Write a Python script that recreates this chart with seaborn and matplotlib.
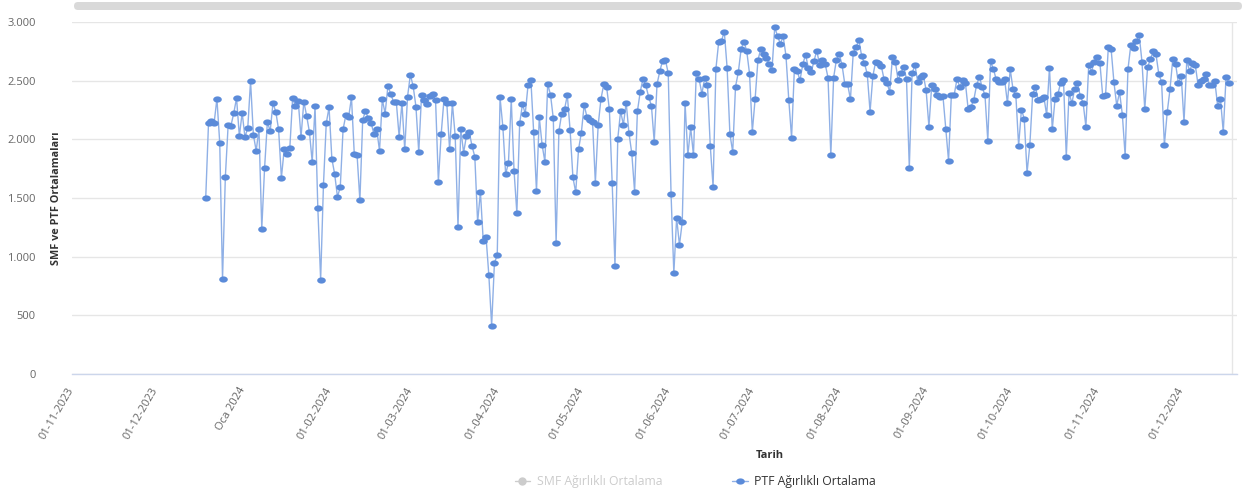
import numpy as np
import pandas as pd
import matplotlib
matplotlib.use("Agg")
import matplotlib.pyplot as plt
import matplotlib.dates as mdates
import seaborn as sns
from matplotlib.transforms import ScaledTranslation, IdentityTransform, blended_transform_factory
from matplotlib.patches import FancyBboxPatch
from matplotlib.lines import Line2D

sns.set_theme(style="white")
plt.rcParams["font.family"] = ["Open Sans", "DejaVu Sans"]

# ---- data: daily PTF weighted average, 2024 ----
ptf_jan = [1497, 2138, 2155, 2140, 2346, 1971, 809, 1678, 2121, 2116, 2223, 2351, 2028, 2226, 2019,
           2096, 2496, 2039, 1903, 2087, 1238, 1755, 2147, 2070, 2309, 2235, 2084, 1673, 1914, 1874, 1925]
ptf_feb = [2351, 2283, 2329, 2019, 2321, 2201, 2062, 1806, 2283, 1412, 804, 1610, 2136, 2272, 1835,
           1704, 1511, 1591, 2085, 2207, 2192, 2357, 1874, 1866, 1480, 2164, 2243, 2178, 2141]
ptf_mar = [2045, 2085, 1903, 2340, 2220, 2454, 2386, 2320, 2317, 2022, 2312, 1914, 2363, 2550, 2454,
           2278, 1891, 2380, 2334, 2298, 2369, 2386, 2334, 1638, 2045, 2340, 2312, 1914, 2306, 2028, 1250]
ptf_apr = [2085, 1886, 2028, 2065, 1943, 1852, 1295, 1553, 1136, 1170, 844, 412, 949, 1011, 2357,
           2107, 1704, 1800, 2340, 1729, 1372, 2138, 2298, 2220, 2465, 2505, 2059, 1559, 2187, 1954]
ptf_may = [1809, 2471, 2380, 2178, 1119, 2070, 2220, 2255, 2377, 2076, 1675, 1548, 1914, 2056, 2292,
           2192, 2164, 2145, 1631, 2119, 2344, 2469, 2449, 2256, 1631, 920, 2006, 2239, 2125, 2312, 2051]
ptf_jun = [1881, 1554, 2239, 2403, 2517, 2460, 2363, 2287, 1980, 2469, 2582, 2670, 2676, 2563, 1537,
           861, 1330, 1099, 1296, 2310, 1864, 2102, 1864, 2568, 2514, 2389, 2520, 2466, 1943, 1596]
ptf_jul = [2599, 2830, 2840, 2918, 2611, 2045, 1892, 2449, 2571, 2770, 2832, 2753, 2560, 2065, 2346,
           2676, 2767, 2725, 2696, 2640, 2591, 2957, 2878, 2815, 2878, 2713, 2338, 2014, 2599, 2582, 2503]
ptf_aug = [2640, 2722, 2605, 2571, 2668, 2756, 2634, 2673, 2640, 2526, 1866, 2526, 2679, 2727, 2634,
           2469, 2469, 2341, 2739, 2784, 2847, 2710, 2648, 2557, 2236, 2540, 2662, 2648, 2625, 2512, 2483]
ptf_sep = [2406, 2704, 2662, 2506, 2563, 2619, 2512, 1758, 2563, 2634, 2491, 2529, 2548, 2418, 2108,
           2463, 2426, 2378, 2358, 2369, 2088, 1818, 2378, 2378, 2512, 2449, 2506, 2483, 2256, 2278]
ptf_oct = [2335, 2463, 2534, 2443, 2375, 1988, 2665, 2597, 2512, 2489, 2491, 2512, 2307, 2597, 2426,
           2378, 1946, 2253, 2176, 1716, 1952, 2386, 2443, 2335, 2346, 2363, 2205, 2611, 2085, 2346, 2386]
ptf_nov = [2483, 2506, 1852, 2398, 2307, 2432, 2477, 2369, 2312, 2108, 2634, 2577, 2662, 2704, 2648,
           2369, 2375, 2784, 2767, 2486, 2287, 2403, 2210, 1858, 2597, 2801, 2776, 2835, 2889, 2662]
ptf_dec = [2256, 2614, 2682, 2753, 2725, 2557, 2489, 1952, 2230, 2426, 2687, 2642, 2477, 2542, 2148,
           2676, 2580, 2648, 2636, 2466, 2500, 2512, 2554, 2463, 2466, 2494, 2284, 2346, 2062, 2534, 2483]

ptf_values = (ptf_jan + ptf_feb + ptf_mar + ptf_apr + ptf_may + ptf_jun +
              ptf_jul + ptf_aug + ptf_sep + ptf_oct + ptf_nov + ptf_dec)
start_date = "2024-01-01"

tick_dates = ["2023-11-01", "2023-12-01", "2024-01-01", "2024-02-01", "2024-03-01", "2024-04-01",
              "2024-05-01", "2024-06-01", "2024-07-01", "2024-08-01", "2024-09-01", "2024-10-01",
              "2024-11-01", "2024-12-01"]
tick_labels = ["01-11-2023", "01-12-2023", "Oca 2024", "01-02-2024", "01-03-2024", "01-04-2024",
               "01-05-2024", "01-06-2024", "01-07-2024", "01-08-2024", "01-09-2024", "01-10-2024",
               "01-11-2024", "01-12-2024"]
grid_dates = tick_dates + ["2025-01-01"]
y_ticks = [0, 500, 1000, 1500, 2000, 2500, 3000]
y_tick_labels = ["0", "500", "1.000", "1.500", "2.000", "2.500", "3.000"]
series_names = ["SMF Ağırlıklı Ortalama", "PTF Ağırlıklı Ortalama"]

df = pd.DataFrame({
    "Tarih": pd.date_range(start_date, periods=len(ptf_values), freq="D"),
    "PTF": ptf_values,
})

# ---- figure ----
W, H = 1242, 495
fig = plt.figure(figsize=(W / 100, H / 100), dpi=100)
ax = fig.add_axes([72 / W, 121 / H, 1165 / W, 352 / H])

t = np.linspace(0, 2 * np.pi, 40)
ellipse = list(zip(np.cos(t), 0.72 * np.sin(t)))

line_col = "#8fb0e6"
mark_col = "#5b8bd9"

sns.lineplot(data=df, x="Tarih", y="PTF", ax=ax, color=line_col, linewidth=1.0,
             marker=ellipse, markersize=6.2, markerfacecolor=mark_col,
             markeredgecolor=mark_col, markeredgewidth=0)

tick_nums = [mdates.date2num(pd.Timestamp(d)) for d in tick_dates]
ax.set_yticks(y_ticks)
ax.set_yticklabels(y_tick_labels)
ax.set_xticks(tick_nums)
ax.set_xticklabels(tick_labels)
ax.set_xticks([mdates.date2num(pd.Timestamp(d)) for d in grid_dates], minor=True)

d0 = mdates.date2num(pd.Timestamp(start_date))
ax.set_xlim(d0 - 47.7, d0 + 367.9)
ax.set_ylim(0, 3000)

ax.grid(False)
ax.grid(axis="y", which="major", color="#e6e6e6", linewidth=1)
ax.grid(axis="x", which="minor", color="#e6e6e6", linewidth=1)
ax.tick_params(axis="both", which="both", length=0)
ax.tick_params(axis="y", pad=26, labelsize=8, labelcolor="#666666")
ax.tick_params(axis="x", pad=10, labelsize=8, labelcolor="#666666")

shift = ScaledTranslation(0.37, 0, fig.dpi_scale_trans)
for lab in ax.get_xticklabels():
    lab.set_rotation(60)
    lab.set_rotation_mode("anchor")
    lab.set_ha("right")
    lab.set_va("center")
    lab.set_transform(lab.get_transform() + shift)

# the first month label lies left of the plot area, so draw it as text
xa_trans = blended_transform_factory(ax.transData, ax.transAxes)
first = ax.text(tick_nums[0], 0, tick_labels[0], rotation=60, rotation_mode="anchor",
                ha="right", va="center", fontsize=8, color="#666666", clip_on=False,
                transform=xa_trans + ScaledTranslation(0.37, -10 / 72, fig.dpi_scale_trans))

for s in ["left", "right", "top"]:
    ax.spines[s].set_visible(False)
ax.spines["bottom"].set_color("#ccd6eb")
ax.spines["bottom"].set_linewidth(1)

ax.set_xlabel("")
ax.set_ylabel("SMF ve PTF Ortalamaları", fontsize=7.8, fontweight="bold", color="#333333")
ax.yaxis.set_label_coords(-0.0085, 0.5)

fig.text(770 / W, 1 - 455 / H, "Tarih", ha="center", va="center",
         fontsize=8, fontweight="bold", color="#333333")

# legend (SMF series hidden, shown greyed out)
h_smf = Line2D([], [], color="#cccccc", marker="o", markersize=5, linewidth=1)
h_ptf = Line2D([], [], color=line_col, marker=ellipse, markersize=6.2,
               markerfacecolor=mark_col, markeredgewidth=0, linewidth=1)
leg = fig.legend([h_smf, h_ptf], series_names, loc="center",
                 bbox_to_anchor=(695 / W, 13 / H), ncol=2, frameon=False,
                 fontsize=8.8, handlelength=1.3, handletextpad=0.5, columnspacing=5.7)
leg.get_texts()[0].set_color("#cccccc")
leg.get_texts()[1].set_color("#333333")

# top scrollbar decoration
bar = FancyBboxPatch((74, H - 10), W - 74, 8, boxstyle="round,pad=0,rounding_size=4",
                     transform=IdentityTransform(), facecolor="#d9d9d9", edgecolor="none")
fig.patches.append(bar)

fig.savefig("out.png", dpi=100)
